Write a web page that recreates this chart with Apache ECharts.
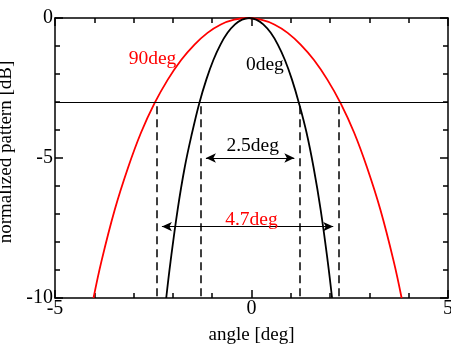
<!DOCTYPE html>
<html>
<head>
<meta charset="utf-8">
<script src="https://cdn.jsdelivr.net/npm/echarts@6/dist/echarts.min.js"></script>
<style>html,body{margin:0;padding:0;background:#fff}#c{width:451px;height:347px}</style>
</head>
<body>
<div id="c"></div>
<script>
// ---- data ----
const angle0 = [-2.17, -2.06, -1.88, -1.70, -1.51, -1.33, -1.15, -0.97, -0.79, -0.61, -0.42, -0.24, -0.06, 0.12, 0.30, 0.49, 0.67, 0.85, 1.03, 1.21, 1.40, 1.58, 1.76, 1.94, 2.05];
const db0 = [-10, -8.7, -6.85, -5.34, -4.09, -3.05, -2.2, -1.5, -0.95, -0.53, -0.23, -0.06, 0, -0.06, -0.23, -0.53, -0.95, -1.5, -2.2, -3.05, -4.09, -5.34, -6.85, -8.7, -10];
const angle90 = [-4.02, -3.82, -3.48, -3.14, -2.81, -2.47, -2.13, -1.79, -1.45, -1.12, -0.78, -0.44, -0.10, 0.24, 0.58, 0.92, 1.25, 1.59, 1.93, 2.27, 2.61, 2.94, 3.28, 3.62, 3.82];
const db90 = [-10, -8.7, -6.85, -5.34, -4.09, -3.05, -2.2, -1.5, -0.95, -0.53, -0.23, -0.06, 0, -0.06, -0.23, -0.53, -0.95, -1.5, -2.2, -3.05, -4.09, -5.34, -6.85, -8.7, -10];
const halfPowerLevel = -3;
const beam0Edges = [-1.29, 1.22];     // dashed markers, 0deg beam
const beam90Edges = [-2.41, 2.21];    // dashed markers, 90deg beam
const arrow0Level = -5;
const arrow90Level = -7.45;
const annotations = [
  {name: '0deg', x: 0.34, y: -1.68, color: '#000'},
  {name: '90deg', x: -2.52, y: -1.47, color: '#ff0000'},
  {name: '2.5deg', x: 0.03, y: -4.55, color: '#000'},
  {name: '4.7deg', x: 0.0, y: -7.2, color: '#ff0000'}
];
const xTicks = {min: -5, max: 5, interval: 5};
const yTicks = {min: -10, max: 0, interval: 5};

const FONT = 'Liberation Serif';
const zip = (a, b) => a.map((v, i) => [v, b[i]]);

const arrowInset = 0.13;
function dashed(x) {
  return [{coord: [x, -3.15], lineStyle: {type: [8, 5], width: 1.5, color: '#000'}}, {coord: [x, -10]}];
}
function arrow(edges, y) {
  return [
    {coord: [edges[0] + arrowInset, y], symbol: 'arrow', symbolSize: [7, 10], lineStyle: {type: 'solid', width: 1.2, color: '#000'}},
    {coord: [edges[1] - arrowInset, y], symbol: 'arrow', symbolSize: [7, 10]}
  ];
}

function axisParts() {
  return {
    axisLine: {show: true, onZero: false, lineStyle: {color: '#000', width: 1.5}},
    axisTick: {show: true, inside: true, length: 8, lineStyle: {color: '#000', width: 1.5}},
    minorTick: {show: true, splitNumber: 5, length: 5, lineStyle: {color: '#000', width: 1.5}},
    splitLine: {show: false},
    minorSplitLine: {show: false}
  };
}
const gridRect = {left: 55, right: 3, top: 18, bottom: 49, containLabel: false, outerBoundsMode: 'none'};

const chart = echarts.init(document.getElementById('c'), null, {renderer: 'canvas'});
chart.setOption({
  animation: false,
  backgroundColor: '#fff',
  grid: [Object.assign({}, gridRect), Object.assign({}, gridRect)],
  xAxis: [
    Object.assign({
      gridIndex: 0, type: 'value', position: 'bottom', min: xTicks.min, max: xTicks.max, interval: xTicks.interval,
      name: 'angle [deg]', nameLocation: 'middle', nameGap: 28,
      nameTextStyle: {fontFamily: FONT, fontSize: 19, color: '#000'},
      axisLabel: {show: true, margin: 1, fontFamily: FONT, fontSize: 20, color: '#000'}
    }, axisParts()),
    Object.assign({
      gridIndex: 0, type: 'value', position: 'top', min: xTicks.min, max: xTicks.max, interval: xTicks.interval,
      axisLabel: {show: false}
    }, axisParts()),
    {gridIndex: 1, type: 'value', min: xTicks.min, max: xTicks.max, interval: xTicks.interval, show: false}
  ],
  yAxis: [
    Object.assign({
      gridIndex: 0, type: 'value', position: 'left', min: yTicks.min, max: yTicks.max, interval: yTicks.interval,
      name: 'normalized pattern [dB]', nameLocation: 'middle', nameGap: 22,
      nameTextStyle: {fontFamily: FONT, fontSize: 19, color: '#000', padding: [0, 0, 0, 12]},
      axisLabel: {show: true, margin: 2, fontFamily: FONT, fontSize: 20, color: '#000'}
    }, axisParts()),
    Object.assign({
      gridIndex: 0, type: 'value', position: 'right', min: yTicks.min, max: yTicks.max, interval: yTicks.interval,
      axisLabel: {show: false}
    }, axisParts()),
    {gridIndex: 1, type: 'value', min: yTicks.min, max: yTicks.max, interval: yTicks.interval, show: false}
  ],
  series: [
    {type: 'line', xAxisIndex: 0, yAxisIndex: 0, data: [], symbol: 'none', silent: true},
    {
      type: 'line', name: '90deg', xAxisIndex: 2, yAxisIndex: 2, data: zip(angle90, db90), showSymbol: false, symbol: 'none',
      smooth: 0.4, clip: true, lineStyle: {color: '#ff0000', width: 1.8}, z: 3,
      markPoint: {
        silent: true, animation: false,
        data: annotations.map(a => ({coord: [a.x, a.y], name: a.name, symbol: 'circle', symbolSize: 0,
          itemStyle: {color: 'rgba(0,0,0,0)'},
          label: {show: true, position: 'inside', formatter: a.name, fontFamily: FONT, fontSize: 19.5, color: a.color}}))
      }
    },
    {
      type: 'line', name: '0deg', xAxisIndex: 2, yAxisIndex: 2, data: zip(angle0, db0), showSymbol: false, symbol: 'none',
      smooth: 0.4, clip: true, lineStyle: {color: '#000', width: 1.8}, z: 4,
      markLine: {
        silent: true, symbol: 'none', animation: false,
        label: {show: false},
        emphasis: {disabled: true},
        data: [
          {yAxis: halfPowerLevel, lineStyle: {type: 'solid', width: 1, color: '#000'}},
          dashed(beam0Edges[0]), dashed(beam0Edges[1]),
          dashed(beam90Edges[0]), dashed(beam90Edges[1]),
          arrow(beam0Edges, arrow0Level),
          arrow(beam90Edges, arrow90Level)
        ]
      }
    }
  ]
});
</script>
</body>
</html>
